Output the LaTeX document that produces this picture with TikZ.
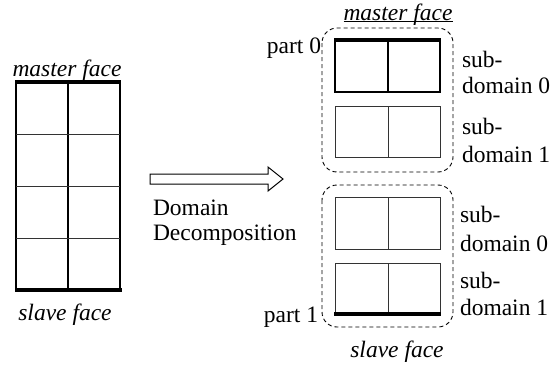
\documentclass[tikz,border=0pt]{standalone}
\usepackage{fontspec}
\setmainfont{Liberation Serif}
\begin{document}
\begin{tikzpicture}[x=1bp,y=-1bp,
  font=\fontsize{23.5bp}{26bp}\selectfont,
  lbl/.style={inner sep=0pt, outer sep=0pt},
  facebar/.style={line width=4bp, line cap=butt},
  gridline/.style={line width=1.8bp},
  thinline/.style={line width=1bp, black!80},
  partbox/.style={line width=0.9bp, dash pattern=on 4bp off 3bp, rounded corners=15bp},
  blockarrow/.style={line width=1bp, line join=miter}]
\useasboundingbox (0,0) rectangle (552,364);

% ---- left mesh ----
\coordinate (L-tl) at (16,82);
\coordinate (L-br) at (120,290);
\draw[gridline] (L-tl) rectangle (L-br);
\draw[gridline] (68,82) -- (68,290);
\draw[thinline] (16,134) -- (120,134);
\draw[thinline] (16,186) -- (120,186);
\draw[thinline] (16,238) -- (120,238);
\draw[facebar] (15,82) -- (121,82);
\draw[facebar] (15,290) -- (122,290);
\node[lbl, anchor=base] (mfL) at (67,76) {\itshape master face};
\node[lbl, anchor=base] (sfL) at (65,320) {\itshape slave face};

% ---- arrow ----
\draw[blockarrow] (150,174) -- (268,174) -- (268,167) -- (283,179)
   -- (268,191) -- (268,184) -- (150,184) -- cycle;
\node[lbl, anchor=base west] (dom) at (153,215) {Domain};
\node[lbl, anchor=base west] (dec) at (153,240) {Decomposition};

% ---- part 0 ----
\draw[partbox] (322,28) rectangle (453,172);
\draw[gridline] (335,39) rectangle (440,92);
\draw[gridline] (388,39) -- (388,92);
\draw[facebar] (334,40) -- (441,40);
\draw[thinline] (335,106) rectangle (440,157);
\draw[thinline] (388,106) -- (388,157);

% ---- part 1 ----
\draw[partbox] (322,185) rectangle (453,327);
\draw[thinline] (335,197) rectangle (440,249);
\draw[thinline] (388,197) -- (388,249);
\draw[thinline] (335,263) rectangle (440,315);
\draw[thinline] (388,263) -- (388,315);
\draw[facebar] (334,314) -- (441,314);

% ---- labels ----
\node[lbl, anchor=base] (mfR) at (398,20) {\itshape master face};
\draw[line width=0.8bp] ([yshift=-1.5bp]mfR.base west) -- ([yshift=-1.5bp]mfR.base east);
\node[lbl, anchor=base] (sfR) at (397,357) {\itshape slave face};
\node[lbl, anchor=base east] (p0) at (321,53) {part 0};
\node[lbl, anchor=base east] (p1) at (318,322) {part 1};

\node[lbl, anchor=base west] (s0a) at (462,67) {sub-};
\node[lbl, anchor=base west] (s0b) at (462,93) {domain 0};
\node[lbl, anchor=base west] (s1a) at (462,134) {sub-};
\node[lbl, anchor=base west] (s1b) at (462,162) {domain 1};
\node[lbl, anchor=base west] (s2a) at (460,222) {sub-};
\node[lbl, anchor=base west] (s2b) at (460,251) {domain 0};
\node[lbl, anchor=base west] (s3a) at (460,288) {sub-};
\node[lbl, anchor=base west] (s3b) at (460,315) {domain 1};
\end{tikzpicture}
\end{document}
